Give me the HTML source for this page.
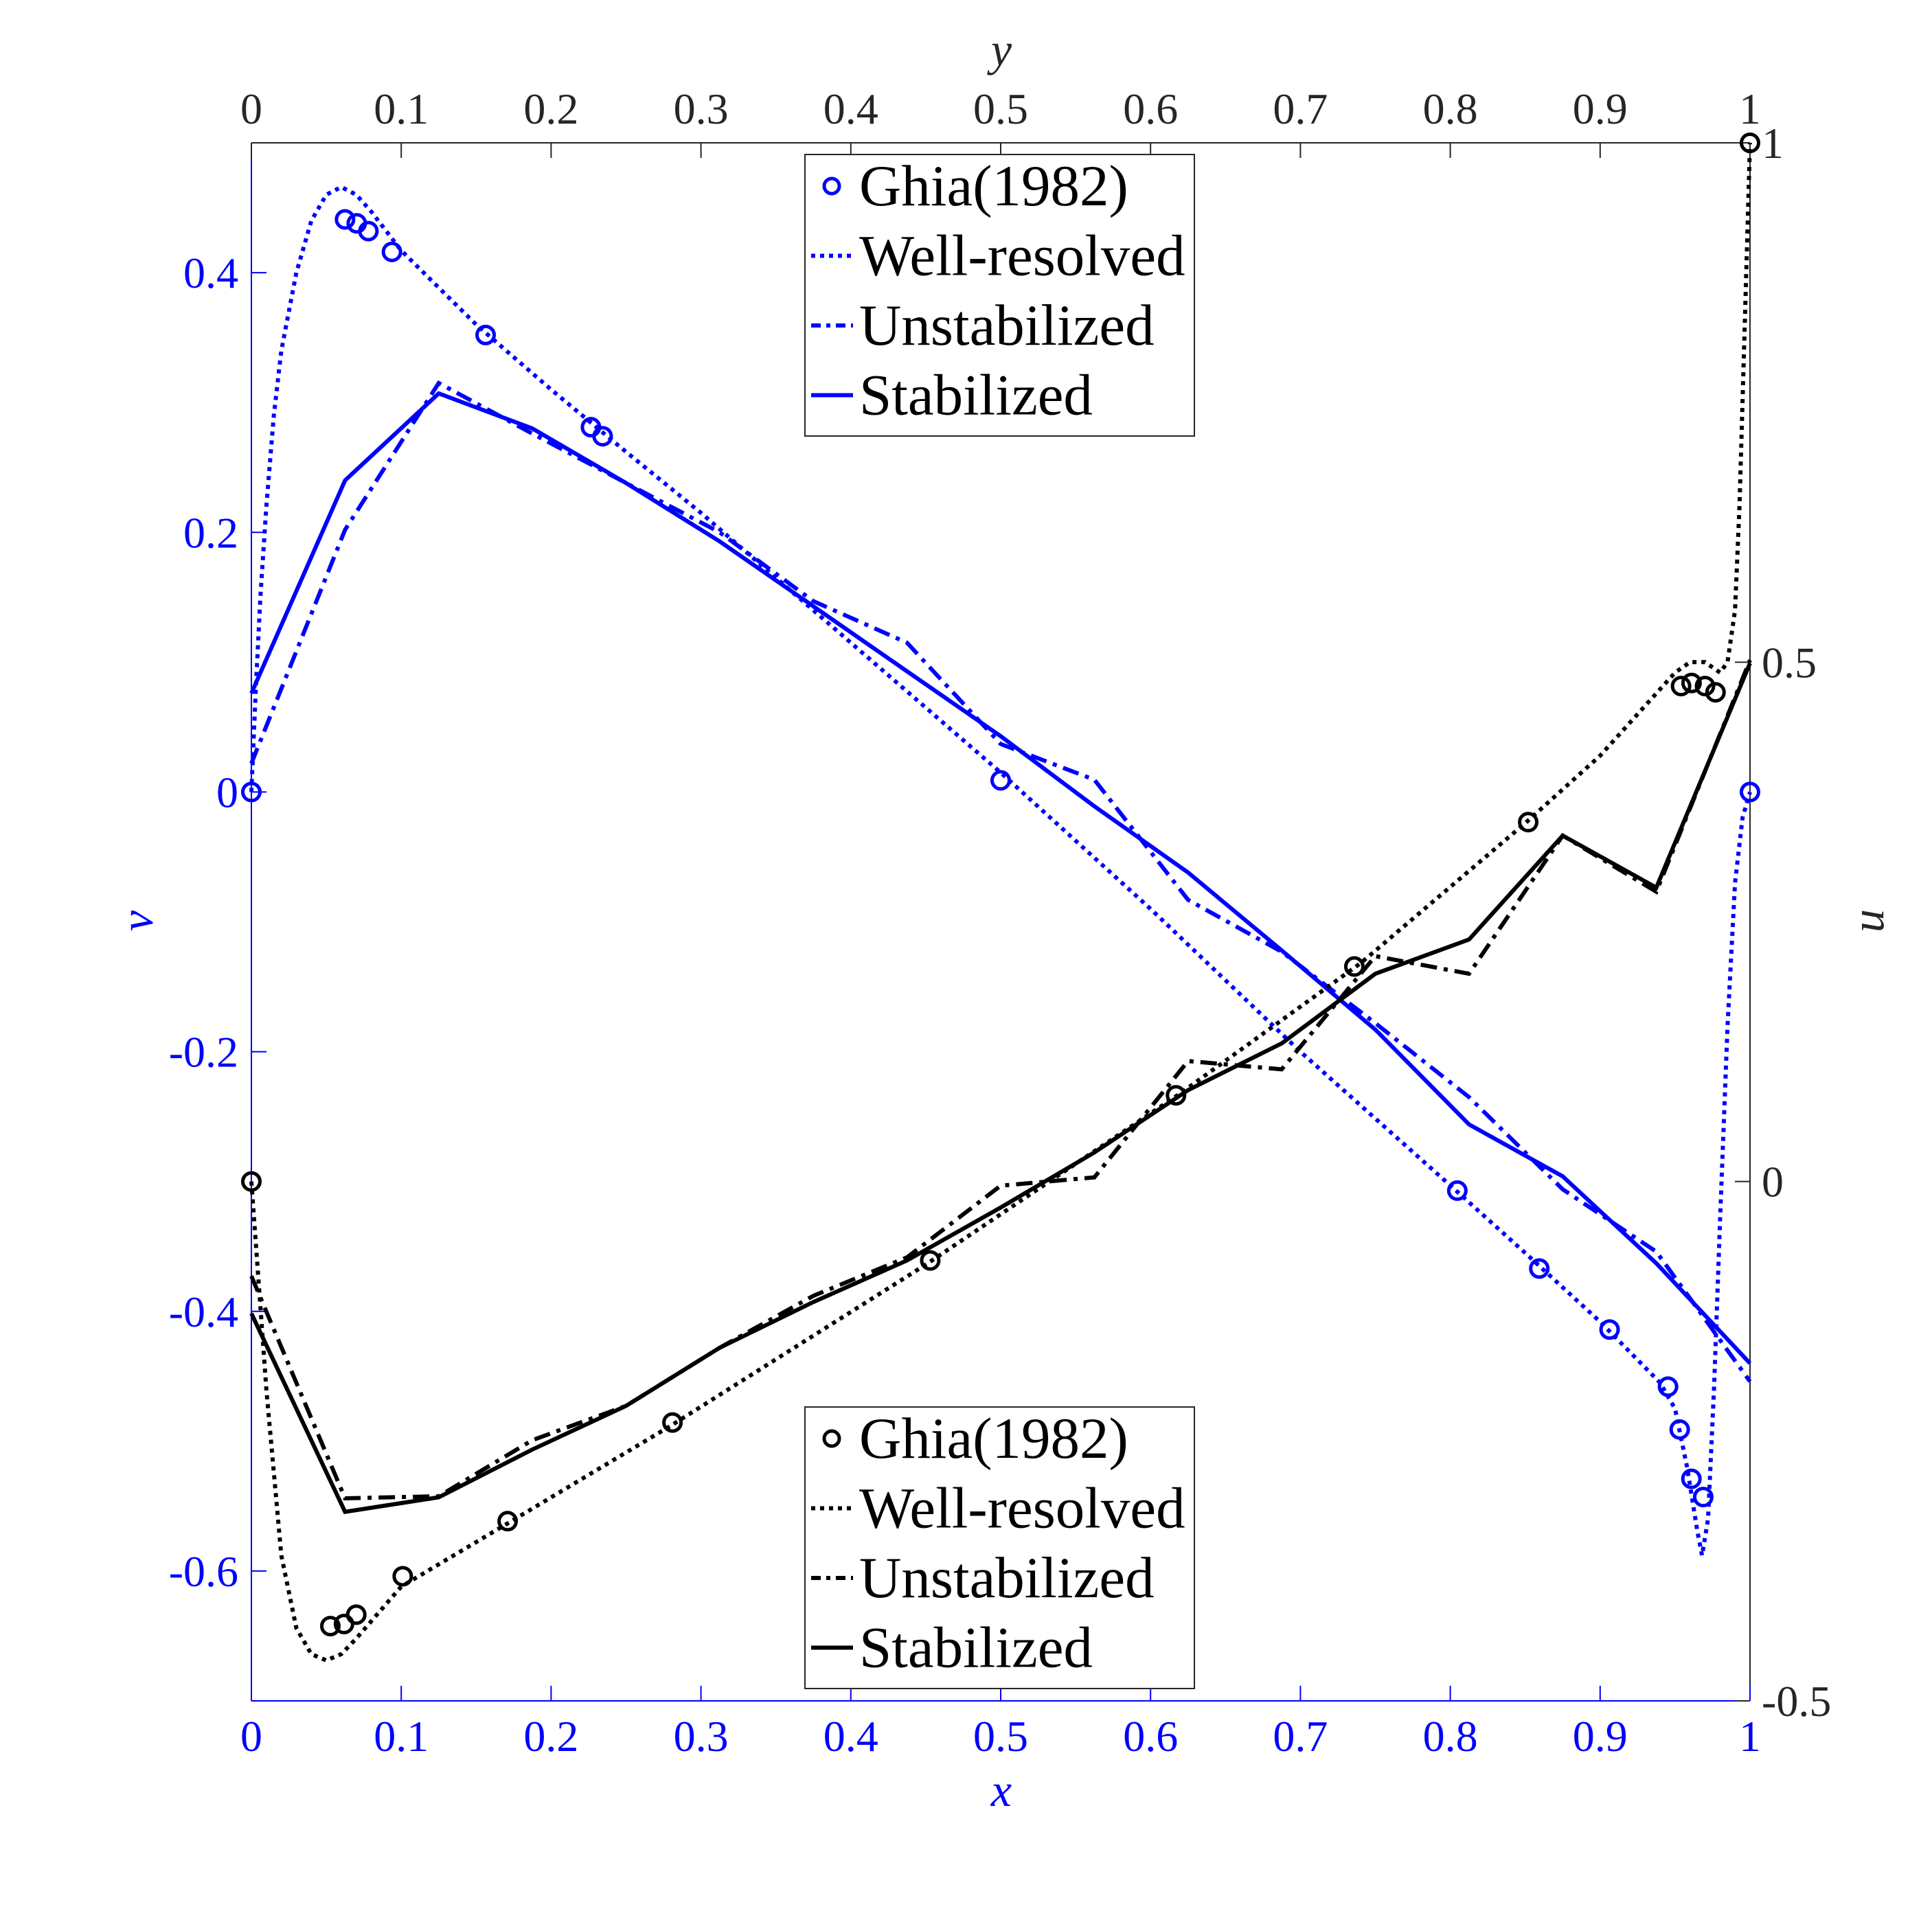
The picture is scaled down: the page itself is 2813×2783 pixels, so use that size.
<!DOCTYPE html>
<html><head><meta charset="utf-8"><style>
html,body{margin:0;padding:0;background:#fff;}
svg{display:block;}
text{font-family:"Liberation Serif",serif;}
</style></head><body>
<svg id="chart" xmlns="http://www.w3.org/2000/svg" width="2813" height="2783" viewBox="0 0 2813 2783"></svg>
<script>
// ---- data: v(x), blue, bottom/left axes ----
const ghiaVx = [0,0.0625,0.0703,0.0781,0.0938,0.1563,0.2266,0.2344,0.5,0.8047,0.8594,0.9063,0.9453,0.9531,0.9609,0.9688,1];
const ghiaV  = [0,0.441,0.438,0.432,0.416,0.352,0.281,0.274,0.009,-0.307,-0.367,-0.414,-0.458,-0.491,-0.529,-0.543,0];
const wellVx = [0,0.003,0.006,0.01,0.015,0.02,0.03,0.04,0.05,0.06,0.07,0.08,0.1,0.15,0.2,0.25,0.3,0.4,0.5,0.6,0.7,0.8,0.85,0.9,0.94,0.95,0.958,0.965,0.968,0.972,0.976,0.98,0.985,0.99,0.995,1];
const wellV  = [0,0.08,0.15,0.22,0.29,0.34,0.40,0.44,0.46,0.466,0.46,0.447,0.417,0.36,0.31,0.262,0.215,0.115,0.015,-0.09,-0.2,-0.303,-0.355,-0.408,-0.455,-0.475,-0.52,-0.57,-0.588,-0.56,-0.46,-0.33,-0.18,-0.07,-0.02,0];
const nodeX  = [0,0.0625,0.125,0.1875,0.25,0.3125,0.375,0.4375,0.5,0.5625,0.625,0.6875,0.75,0.8125,0.875,0.9375,1];
const unstabV = [0.022,0.202,0.315,0.276,0.238,0.200,0.147,0.115,0.037,0.0095,-0.083,-0.123,-0.178,-0.235,-0.306,-0.354,-0.454];
const stabV   = [0.076,0.240,0.307,0.280,0.238,0.193,0.143,0.093,0.043,-0.011,-0.062,-0.122,-0.183,-0.256,-0.296,-0.363,-0.440];
// ---- data: u(y), black, top/right axes ----
const ghiaUy = [0,0.0527,0.0618,0.070,0.101,0.171,0.281,0.453,0.617,0.736,0.852,0.954,0.961,0.970,0.977,1];
const ghiaU  = [0,-0.428,-0.426,-0.417,-0.380,-0.327,-0.232,-0.076,0.083,0.207,0.346,0.477,0.480,0.477,0.471,1];
const wellUy = [0,0.005,0.01,0.02,0.03,0.04,0.05,0.06,0.07,0.1,0.17,0.28,0.45,0.62,0.74,0.85,0.9,0.95,0.96,0.97,0.98,0.985,0.99,0.993,0.996,1];
const wellU  = [0,-0.1,-0.2,-0.36,-0.43,-0.455,-0.461,-0.455,-0.44,-0.39,-0.33,-0.235,-0.08,0.085,0.21,0.345,0.41,0.49,0.5,0.5,0.49,0.5,0.55,0.65,0.8,1];
const unstabU = [-0.091,-0.305,-0.303,-0.249,-0.216,-0.160,-0.110,-0.073,-0.004,0.004,0.116,0.108,0.217,0.200,0.333,0.279,0.502];
const stabU   = [-0.127,-0.318,-0.304,-0.258,-0.216,-0.160,-0.116,-0.076,-0.025,0.028,0.088,0.133,0.200,0.233,0.333,0.283,0.499];
// ---- ticks ----
const xTicks = [0,0.1,0.2,0.3,0.4,0.5,0.6,0.7,0.8,0.9,1];
const xTickLabels = ["0","0.1","0.2","0.3","0.4","0.5","0.6","0.7","0.8","0.9","1"];
const vTicks = [-0.6,-0.4,-0.2,0,0.2,0.4];
const vTickLabels = ["-0.6","-0.4","-0.2","0","0.2","0.4"];
const uTicks = [-0.5,0,0.5,1];
const uTickLabels = ["-0.5","0","0.5","1"];

const L=366,R=2548,T=208,B=2477;
const BLUE="#0000ff", BLK="#000000", AX="#262626";
const sx=x=>L+x*(R-L);
const sv=v=>B-(v+0.7)/1.2*(B-T);
const su=u=>B-(u+0.5)/1.5*(B-T);
const svg=document.getElementById('chart');
const NS="http://www.w3.org/2000/svg";
function mk(tag,attrs,parent){const e=document.createElementNS(NS,tag);for(const k in attrs)e.setAttribute(k,attrs[k]);(parent||svg).appendChild(e);return e;}
function txt(s,attrs,parent){const e=mk('text',attrs,parent);e.textContent=s;return e;}

let g=mk('g',{});


let a=mk('line',{x1:L,y1:T,x2:R,y2:T,stroke:AX,'stroke-width':2},g);

a=mk('line',{x1:R,y1:T,x2:R,y2:B,stroke:AX,'stroke-width':2},g);

a=mk('line',{x1:L,y1:B,x2:R,y2:B,stroke:BLUE,'stroke-width':2},g);

a=mk('line',{x1:L,y1:T,x2:L,y2:B,stroke:BLUE,'stroke-width':2},g);


xTicks.forEach((t,i)=>{
  const X=sx(t);
  mk('line',{x1:X,y1:B,x2:X,y2:B-22,stroke:BLUE,'stroke-width':2},g);
  mk('line',{x1:X,y1:T,x2:X,y2:T+22,stroke:AX,'stroke-width':2},g);
  let e=txt(xTickLabels[i],{x:X,y:2550,'text-anchor':'middle','font-size':64,fill:BLUE},g);
  
  
  e=txt(xTickLabels[i],{x:X,y:180,'text-anchor':'middle','font-size':64,fill:AX},g);
  
  
});
vTicks.forEach((t,i)=>{
  const Y=sv(t);
  mk('line',{x1:L,y1:Y,x2:L+22,y2:Y,stroke:BLUE,'stroke-width':2},g);
  const e=txt(vTickLabels[i],{x:347,y:Y+22,'text-anchor':'end','font-size':64,fill:BLUE},g);
  
  
});
uTicks.forEach((t,i)=>{
  const Y=su(t);
  mk('line',{x1:R,y1:Y,x2:R-22,y2:Y,stroke:AX,'stroke-width':2},g);
  const e=txt(uTickLabels[i],{x:2565,y:Y+22,'text-anchor':'start','font-size':64,fill:AX},g);
  
  
});
let t1=txt('x',{x:1458,y:2630,'text-anchor':'middle','font-size':68,'font-style':'italic',fill:BLUE});

t1=txt('y',{x:1458,y:95,'text-anchor':'middle','font-size':68,'font-style':'italic',fill:AX});

t1=txt('v',{x:0,y:0,'text-anchor':'middle','font-size':68,'font-style':'italic',fill:BLUE,transform:'translate(222,1341) rotate(-90)'});

t1=txt('u',{x:0,y:0,'text-anchor':'middle','font-size':68,'font-style':'italic',fill:AX,transform:'translate(2742,1341) rotate(-90)'});


function line(xs,ys,fy,color,dash,name){
  const d=xs.map((x,i)=>(i?'L':'M')+sx(x).toFixed(1)+','+fy(ys[i]).toFixed(1)).join(' ');
  const p=mk('path',{d:d,fill:'none',stroke:color,'stroke-width':6,'stroke-dasharray':dash,'stroke-linejoin':'miter'});
  
  
}
function markers(xs,ys,fy,color,name){
  xs.forEach((x,i)=>{
    const c=mk('circle',{cx:sx(x),cy:fy(ys[i]),r:12.5,fill:'none',stroke:color,'stroke-width':5});
    
    
  });
}
const DOT='6 7', DASHDOT='24 10 6 10';
line(wellVx,wellV,sv,BLUE,DOT,'v-well-resolved-line');
line(nodeX,unstabV,sv,BLUE,DASHDOT,'v-unstabilized-line');
line(nodeX,stabV,sv,BLUE,'none','v-stabilized-line');
markers(ghiaVx,ghiaV,sv,BLUE,'v-ghia-marker');
line(wellUy,wellU,su,BLK,DOT,'u-well-resolved-line');
line(nodeX,unstabU,su,BLK,DASHDOT,'u-unstabilized-line');
line(nodeX,stabU,su,BLK,'none','u-stabilized-line');
markers(ghiaUy,ghiaU,su,BLK,'u-ghia-marker');

function legend(top,color,name,ud){
  const lg=mk('g',{});
  
  
  mk('rect',{x:1172,y:top,width:567,height:410,fill:'#fff',stroke:AX,'stroke-width':2},lg);
  const labels=['Ghia(1982)','Well-resolved','Unstabilized','Stabilized'];
  const dashes=[null,DOT,ud,'none'];
  labels.forEach((s,i)=>{
    const by=top+74+i*101.5, cy=by-28;
    if(i===0){mk('circle',{cx:1211,cy:cy,r:11,fill:'none',stroke:color,'stroke-width':5},lg);}
    else mk('line',{x1:1181,y1:cy,x2:1242,y2:cy,stroke:color,'stroke-width':6,'stroke-dasharray':dashes[i]},lg);
    const e=txt(s,{x:1251,y:by,'font-size':85,fill:'#000'},lg);
    
    
  });
}
legend(225,BLUE,'v-legend','14 8 6 8');
legend(2049,BLK,'u-legend','14 8 6 8');
</script>
</body></html>
